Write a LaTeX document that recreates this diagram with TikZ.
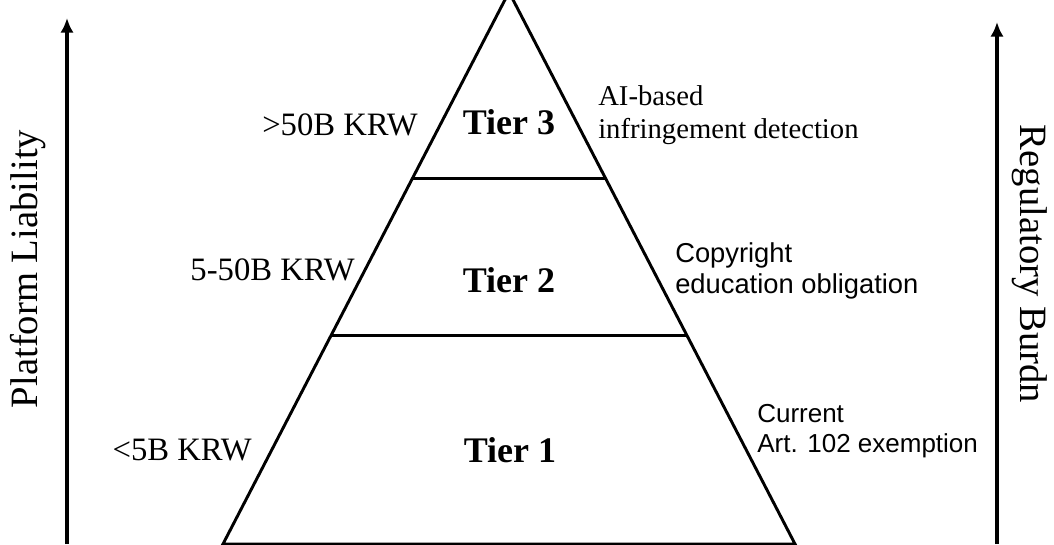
\documentclass[tikz,border=0pt]{standalone}
\usepackage{fontspec}
\setmainfont{Liberation Serif}
\newfontfamily\notesans{Liberation Sans}
\usetikzlibrary{arrows.meta,calc}

\begin{document}
\begin{tikzpicture}[x=0.75pt,y=-0.75pt,
  edge/.style={draw,line width=2.2pt},
  axis/.style={draw,line width=2.4pt,->,>={Latex[length=11pt,width=10pt]}},
  tier/.style={font=\fontsize{27}{30}\selectfont\bfseries,anchor=base,inner sep=0pt},
  size/.style={font=\fontsize{24.5}{28}\selectfont,anchor=base east,inner sep=0pt},
  measure/.style={align=left,anchor=base west,inner sep=0pt},
  side/.style={font=\fontsize{29}{32}\selectfont,anchor=base,inner sep=0pt}]
\useasboundingbox (0,0) rectangle (1054,544);

\coordinate (top) at (509,-8);
\coordinate (bl) at (223,544);
\coordinate (br) at (795,544);
\coordinate (t3l) at ($(top)!0.337!(bl)$);
\coordinate (t3r) at ($(top)!0.337!(br)$);
\coordinate (t2l) at ($(top)!0.623!(bl)$);
\coordinate (t2r) at ($(top)!0.623!(br)$);

\path[edge] (bl) -- (top) -- (br) -- cycle;
\path[edge] (t3l) -- (t3r);
\path[edge] (t2l) -- (t2r);

\node[tier] (tier3) at (509,134) {Tier 3};
\node[tier] (tier2) at (509,292) {Tier 2};
\node[tier] (tier1) at (510,462) {Tier 1};

\node[size] (big) at (418,135) {>50B KRW};
\node[size] (mid) at (355,280) {5-50B KRW};
\node[size] (small) at (252,460) {<5B KRW};

\node[measure,font=\fontsize{21.5}{24.75}\selectfont] (ai) at (598,138) {AI-based\\infringement detection};
\node[measure,font=\notesans\fontsize{20.5}{23.25}\selectfont] (edu) at (675,293) {Copyright\\education obligation};
\node[measure,font=\notesans\fontsize{19.5}{22.5}\selectfont] (exempt) at (757,452) {Current\\Art. 102 exemption};

\coordinate (la) at (67,544);
\coordinate (lb) at (67,18);
\coordinate (ra) at (997,544);
\coordinate (rb) at (997,22);
\path[axis] (la) -- (lb);
\path[axis] (ra) -- (rb);

\node[side,rotate=90] (liab) at (37,269) {Platform Liability};
\node[side,rotate=-90] (burden) at (1020,264) {Regulatory Burdn};
\end{tikzpicture}
\end{document}
